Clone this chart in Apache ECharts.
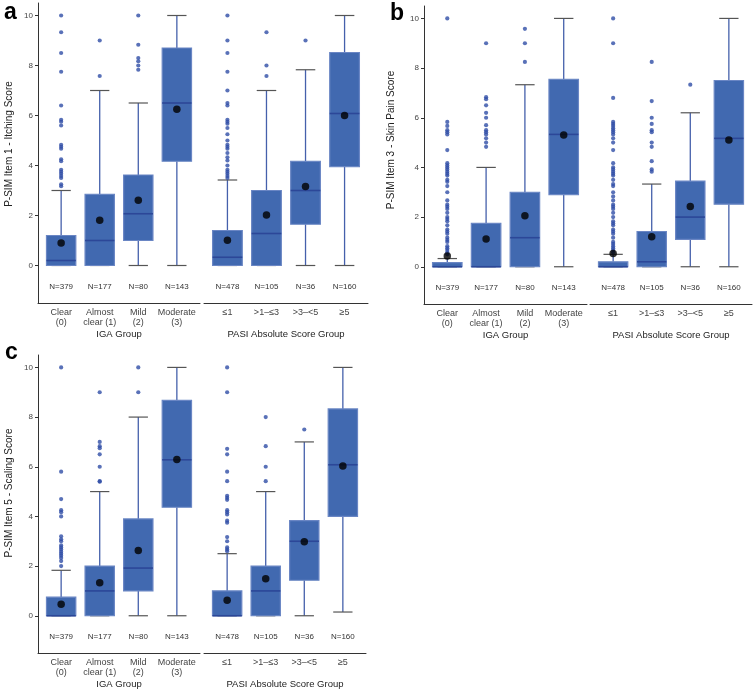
<!DOCTYPE html>
<html>
<head>
<meta charset="utf-8">
<script src="https://cdn.jsdelivr.net/npm/echarts@6/dist/echarts.min.js"></script>
<style>
html,body{margin:0;padding:0;background:#fff;}
#chart{width:754px;height:692px;}
</style>
</head>
<body>
<div id="chart"></div>
<script>
// ---------- categories & labels ----------
const igaCategories = ['Clear\n(0)', 'Almost\nclear (1)', 'Mild\n(2)', 'Moderate\n(3)'];
const pasiCategories = ['≤1', '>1–≤3', '>3–<5', '≥5'];
const igaN = [379, 177, 80, 143];
const pasiN = [478, 105, 36, 160];
const yTicks = [0, 2, 4, 6, 8, 10];
const panelLetters = ['a', 'b', 'c'];
const panelTitles = ['P-SIM Item 1 - Itching Score', 'P-SIM Item 3 - Skin Pain Score', 'P-SIM Item 5 - Scaling Score'];

// ---------- Panel a: Itching (box = [min, Q1, median, Q3, max]) ----------
const itchIgaBoxes = [[0, 0, 0.2, 1.2, 3.0], [0, 0, 1.0, 2.85, 7.0], [0, 1.0, 2.07, 3.62, 6.5], [0, 4.17, 6.5, 8.7, 10]];
const itchIgaMeans = [0.9, 1.81, 2.61, 6.25];
const itchIgaOutliers = [
  [10, 9.33, 8.5, 7.75, 6.4, 5.83, 5.75, 5.6, 4.83, 4.75, 4.67, 4.25, 4.17, 3.83, 3.75, 3.67, 3.58, 3.5, 3.25, 3.17],
  [9.0, 7.58],
  [10, 8.83, 8.3, 8.17, 8.0, 7.83],
  []
];
const itchPasiBoxes = [[0, 0, 0.33, 1.4, 3.42], [0, 0, 1.28, 3.0, 7.0], [0, 1.65, 3.0, 4.17, 7.83], [0, 3.95, 6.08, 8.52, 10]];
const itchPasiMeans = [1.01, 2.02, 3.16, 6.0];
const itchPasiOutliers = [
  [10, 9, 8.5, 7.75, 7, 6.5, 6.4, 5.83, 5.75, 5.67, 5.5, 5.25, 5, 4.83, 4.75, 4.67, 4.5, 4.33, 4.2, 4, 3.83, 3.75, 3.67, 3.58, 3.5],
  [9.33, 8, 7.58],
  [9],
  []
];

// ---------- Panel b: Skin pain ----------
const painIgaBoxes = [[0, 0, 0, 0.17, 0.33], [0, 0, 0, 1.75, 4.0], [0, 0, 1.17, 3.0, 7.33], [0, 2.9, 5.33, 7.55, 10]];
const painIgaMeans = [0.43, 1.12, 2.05, 5.31];
const painIgaOutliers = [
  [10, 5.83, 5.67, 5.5, 5.42, 5.33, 4.7, 4.17, 4.08, 4.0, 3.92, 3.83, 3.75, 3.67, 3.5, 3.42, 3.25, 3.0, 2.67, 2.5, 2.42, 2.33, 2.17, 2.0, 1.92, 1.83, 1.67, 1.5, 1.42, 1.33, 1.17, 1.08, 1.0, 0.83, 0.75, 0.67, 0.58, 0.5],
  [9, 6.83, 6.75, 6.5, 6.2, 6, 5.7, 5.5, 5.42, 5.33, 5.17, 5, 4.83],
  [9.58, 9, 8.25],
  []
];
const painPasiBoxes = [[0, 0, 0, 0.2, 0.5], [0, 0, 0.2, 1.42, 3.33], [0, 1.1, 2.0, 3.45, 6.2], [0, 2.52, 5.17, 7.5, 10]];
const painPasiMeans = [0.53, 1.21, 2.43, 5.1];
const painPasiOutliers = [
  [10, 9, 6.8, 5.83, 5.75, 5.67, 5.58, 5.5, 5.42, 5.33, 5.17, 5.0, 4.7, 4.17, 4.0, 3.92, 3.83, 3.75, 3.67, 3.5, 3.33, 3.25, 3.0, 2.83, 2.67, 2.5, 2.42, 2.33, 2.17, 2.0, 1.83, 1.75, 1.67, 1.5, 1.42, 1.33, 1.17, 1.0, 0.92, 0.83, 0.75, 0.67, 0.58],
  [8.25, 6.67, 6.0, 5.75, 5.5, 5.42, 5.0, 4.83, 4.25, 3.92, 3.83],
  [7.33],
  []
];

// ---------- Panel c: Scaling ----------
const scaleIgaBoxes = [[0, 0, 0, 0.75, 1.83], [0, 0, 1.0, 2.0, 5.0], [0, 1.0, 1.92, 3.9, 8.0], [0, 4.37, 6.28, 8.67, 10]];
const scaleIgaMeans = [0.46, 1.33, 2.63, 6.29];
const scaleIgaOutliers = [
  [10, 5.8, 4.7, 4.25, 4.17, 4.0, 3.2, 3.08, 3.0, 2.83, 2.75, 2.67, 2.58, 2.5, 2.42, 2.33, 2.2, 2.0],
  [9, 7, 6.83, 6.75, 6.5, 6, 5.42, 5.4],
  [10, 9],
  []
];
const scalePasiBoxes = [[0, 0, 0, 1.0, 2.5], [0, 0, 1.0, 2.0, 5.0], [0, 1.43, 3.0, 3.83, 7.0], [0.15, 4.0, 6.08, 8.33, 10]];
const scalePasiMeans = [0.62, 1.49, 2.98, 6.03];
const scalePasiOutliers = [
  [10, 9, 6.72, 6.5, 5.8, 5.42, 4.83, 4.75, 4.67, 4.25, 4.17, 4.08, 3.83, 3.75, 3.17, 3.0, 2.75, 2.67, 2.6],
  [8, 6.83, 6, 5.42],
  [7.5],
  []
];

// ---------- layout (pixels) ----------
const facets = [
  {left: 38, width: 162, top: 3, height: 300},
  {left: 204, width: 164, top: 3, height: 300},
  {left: 424, width: 163, top: 6, height: 298},
  {left: 590, width: 162, top: 6, height: 298},
  {left: 38, width: 162, top: 355, height: 298},
  {left: 204, width: 162, top: 355, height: 298}
];
const facetData = [
  {cats: igaCategories, n: igaN, boxes: itchIgaBoxes, means: itchIgaMeans, out: itchIgaOutliers, title: 'IGA Group', showY: true},
  {cats: pasiCategories, n: pasiN, boxes: itchPasiBoxes, means: itchPasiMeans, out: itchPasiOutliers, title: 'PASI Absolute Score Group', showY: false},
  {cats: igaCategories, n: igaN, boxes: painIgaBoxes, means: painIgaMeans, out: painIgaOutliers, title: 'IGA Group', showY: true},
  {cats: pasiCategories, n: pasiN, boxes: painPasiBoxes, means: painPasiMeans, out: painPasiOutliers, title: 'PASI Absolute Score Group', showY: false},
  {cats: igaCategories, n: igaN, boxes: scaleIgaBoxes, means: scaleIgaMeans, out: scaleIgaOutliers, title: 'IGA Group', showY: true},
  {cats: pasiCategories, n: pasiN, boxes: scalePasiBoxes, means: scalePasiMeans, out: scalePasiOutliers, title: 'PASI Absolute Score Group', showY: false}
];

const FONT = 'Liberation Sans, Arial, sans-serif';
const BOX_FILL = '#4169b0';
const BOX_EDGE = '#6a86c4';
const MEDIAN = '#2c4798';
const WHISKER = '#4560ab';
const CAP = '#555555';
const OUTLIER = '#2f4ea6';
const AXIS = '#333333';

const grid = [], xAxis = [], yAxis = [], series = [];

facets.forEach((f, i) => {
  const d = facetData[i];
  grid.push({left: f.left, top: f.top, width: f.width, height: f.height, containLabel: false});
  xAxis.push({
    type: 'value', gridIndex: i, min: 0.4, max: 4.6,
    name: d.title, nameLocation: 'middle', nameGap: 26,
    nameTextStyle: {fontFamily: FONT, fontSize: 9.5, color: '#222'},
    axisLine: {show: true, onZero: false, lineStyle: {color: AXIS, width: 1}},
    axisTick: {show: false},
    splitLine: {show: false},
    axisLabel: {
      customValues: [1, 2, 3, 4], margin: 4,
      fontFamily: FONT, fontSize: 9, lineHeight: 10.5, color: '#444',
      formatter: (v) => d.cats[Math.round(v) - 1] || ''
    }
  });
  yAxis.push({
    type: 'value', gridIndex: i, min: -1.5, max: 10.5, show: true,
    axisLine: {show: d.showY, onZero: false, lineStyle: {color: AXIS, width: 1}},
    axisTick: {show: d.showY, customValues: yTicks, length: 3, lineStyle: {color: AXIS}},
    axisLabel: {show: d.showY, customValues: yTicks, margin: 5, fontFamily: FONT, fontSize: 8, color: '#444'},
    splitLine: {show: false}
  });

  // boxes
  series.push({
    type: 'custom', xAxisIndex: i, yAxisIndex: i, z: 2,
    data: d.boxes.map((b, k) => [k + 1, b[0], b[1], b[2], b[3], b[4]]),
    encode: {x: 0, y: [1, 2, 3, 4, 5]},
    renderItem: function (params, api) {
      const x = api.value(0);
      const lo = api.coord([x, api.value(1)]);
      const q1 = api.coord([x, api.value(2)]);
      const md = api.coord([x, api.value(3)]);
      const q3 = api.coord([x, api.value(4)]);
      const hi = api.coord([x, api.value(5)]);
      const bw = api.size([0.76, 0])[0];
      const cw = api.size([0.5, 0])[0];
      const cx = lo[0];
      const ls = {stroke: WHISKER, lineWidth: 1.3};
      return {
        type: 'group',
        children: [
          {type: 'line', shape: {x1: cx, y1: lo[1], x2: cx, y2: q1[1]}, style: ls},
          {type: 'line', shape: {x1: cx, y1: q3[1], x2: cx, y2: hi[1]}, style: ls},
          {type: 'line', shape: {x1: cx - cw / 2, y1: lo[1], x2: cx + cw / 2, y2: lo[1]}, style: {stroke: CAP, lineWidth: 1.2}},
          {type: 'line', shape: {x1: cx - cw / 2, y1: hi[1], x2: cx + cw / 2, y2: hi[1]}, style: {stroke: CAP, lineWidth: 1.2}},
          {type: 'rect', shape: {x: cx - bw / 2, y: q3[1], width: bw, height: q1[1] - q3[1]},
            style: {fill: BOX_FILL, stroke: BOX_EDGE, lineWidth: 1.2}},
          {type: 'line', shape: {x1: cx - bw / 2, y1: md[1], x2: cx + bw / 2, y2: md[1]}, style: {stroke: MEDIAN, lineWidth: 1.6}}
        ]
      };
    }
  });

  // outliers
  const outPts = [];
  d.out.forEach((arr, k) => arr.forEach(v => outPts.push([k + 1, v])));
  series.push({
    type: 'scatter', xAxisIndex: i, yAxisIndex: i, z: 3,
    symbol: 'circle', symbolSize: 4.2,
    itemStyle: {color: OUTLIER},
    data: outPts
  });

  // means
  series.push({
    type: 'scatter', xAxisIndex: i, yAxisIndex: i, z: 4,
    symbol: 'circle', symbolSize: 7.5,
    itemStyle: {color: '#000'},
    data: d.means.map((m, k) => [k + 1, m])
  });

  // N labels
  series.push({
    type: 'custom', xAxisIndex: i, yAxisIndex: i, z: 4,
    data: d.n.map((n, k) => [k + 1, -0.85, n]),
    encode: {x: 0, y: 1},
    renderItem: function (params, api) {
      const p = api.coord([api.value(0), api.value(1)]);
      return {
        type: 'text',
        style: {x: p[0], y: p[1], text: 'N=' + api.value(2), fill: '#333',
          font: '8px ' + FONT, align: 'center', verticalAlign: 'middle'}
      };
    }
  });
});

// panel letters and y-axis titles
const graphic = [
  {type: 'text', left: 4, top: 1, style: {text: 'a', font: 'bold 23px ' + FONT, fill: '#000'}},
  {type: 'text', left: 390, top: 2, style: {text: 'b', font: 'bold 23px ' + FONT, fill: '#000'}},
  {type: 'text', left: 5, top: 341, style: {text: 'c', font: 'bold 23px ' + FONT, fill: '#000'}},
  {type: 'text', x: 9.5, y: 144, rotation: Math.PI / 2,
    style: {text: panelTitles[0], font: '10px ' + FONT, fill: '#222', align: 'center', verticalAlign: 'middle'}},
  {type: 'text', x: 391.5, y: 140, rotation: Math.PI / 2,
    style: {text: panelTitles[1], font: '10px ' + FONT, fill: '#222', align: 'center', verticalAlign: 'middle'}},
  {type: 'text', x: 9, y: 493, rotation: Math.PI / 2,
    style: {text: panelTitles[2], font: '10px ' + FONT, fill: '#222', align: 'center', verticalAlign: 'middle'}}
];

const chart = echarts.init(document.getElementById('chart'), null, {renderer: 'canvas'});
chart.setOption({
  animation: false,
  backgroundColor: '#fff',
  grid, xAxis, yAxis, series, graphic
});
</script>
</body>
</html>
